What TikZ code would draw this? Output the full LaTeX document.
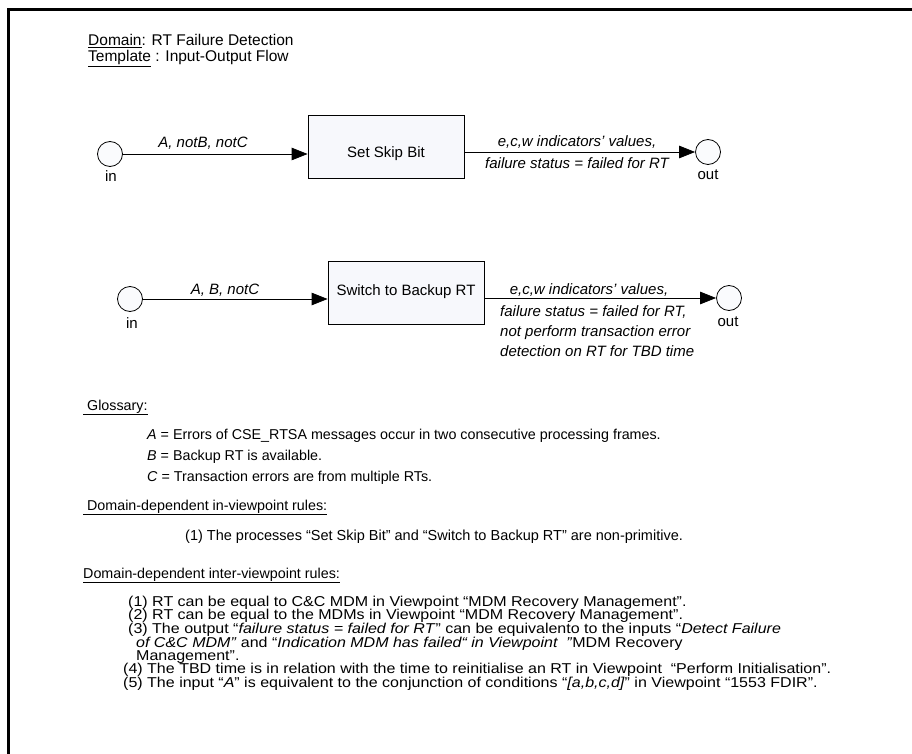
\documentclass[tikz,border=0pt]{standalone}
\usepackage{fontspec}
\setmainfont{Liberation Sans}
\newfontfamily\listfont[FakeStretch=1.12]{Liberation Sans}
\usetikzlibrary{arrows.meta}
\definecolor{portfill}{HTML}{FAFBFD}
\definecolor{procfill}{HTML}{F7F8FC}
\begin{document}
\begin{tikzpicture}[x=1pt,y=-1pt,
  hdr/.style={font=\fontsize{15.5}{18}\selectfont, inner sep=0pt, anchor=base west},
  txt/.style={font=\fontsize{14.3}{16}\selectfont, inner sep=0pt, anchor=base west},
  lst/.style={font=\listfont\fontsize{14.3}{16}\selectfont, inner sep=0pt, anchor=base west},
  lbl/.style={font=\fontsize{15}{18}\selectfont\itshape, inner sep=0pt, anchor=base},
  lblw/.style={font=\fontsize{15}{18}\selectfont\itshape, inner sep=0pt, anchor=base west},
  portlbl/.style={font=\fontsize{15}{18}\selectfont, inner sep=0pt},
  port/.style={circle, draw, fill=portfill, minimum size=25pt, inner sep=0pt, line width=0.8pt},
  proc/.style={rectangle, draw, fill=procfill, minimum width=156pt, minimum height=63pt,
    inner sep=0pt, line width=0.8pt, font=\fontsize{15}{18}\selectfont},
  flow/.style={line width=0.8pt, -{Triangle[length=16pt,width=12.5pt]}},
]
\useasboundingbox (0,0) rectangle (912,754);
\draw[line width=3pt] (8.5,754) -- (8.5,9.5) -- (912,9.5);

% header
\node[hdr] (dom) at (88,46) {\underline{Domain}: RT Failure Detection};
\node[hdr] (tpl) at (88,62) {\underline{Template} : Input-Output Flow};

% diagram 1
\node[port] (in1) at (110,154) {};
\node[portlbl] (in1l) at (111,176) {in};
\node[proc, text height=26pt, text depth=3pt] (box1) at (386,146.5) {Set Skip Bit};
\node[port] (out1) at (708,152) {};
\node[portlbl] (out1l) at (708,175) {out};
\draw[flow] (in1.east) -- (in1.east -| box1.west);
\draw[flow] (box1.east |- out1) -- (out1.west);
\node[lbl] (l1) at (203,148) {A, notB, notC};
\node[lbl] (l2) at (577,147) {e,c,w indicators’ values,};
\node[lbl] (l3) at (577,168) {failure status = failed for RT};

% diagram 2
\node[port] (in2) at (130,299) {};
\node[portlbl] (in2l) at (132,323) {in};
\node[proc, text height=7pt, text depth=3pt] (box2) at (406,293) {Switch to Backup RT};
\node[port] (out2) at (729,298) {};
\node[portlbl] (out2l) at (728,322) {out};
\draw[flow] (in2.east) -- (in2.east -| box2.west);
\draw[flow] (box2.east |- out2) -- (out2.west);
\node[lbl] (m1) at (225,294) {A, B, notC};
\node[lbl] (m2) at (589,294) {e,c,w indicators’ values,};
\node[lblw] (m3) at (500,316) {failure status = failed for RT,};
\node[lblw] (m4) at (500,336) {not perform transaction error};
\node[lblw] (m5) at (500,356) {detection on RT for TBD time};

% glossary
\node[txt] (gl) at (83,410) {\underline{\ Glossary:}};
\node[txt] (ga) at (147,439) {\textit{A} = Errors of CSE\_RTSA messages occur in two consecutive processing frames.};
\node[txt] (gb) at (147,460) {\textit{B} = Backup RT is available.};
\node[txt] (gc) at (147,481) {\textit{C} = Transaction errors are from multiple RTs.};

\node[txt] (inh) at (83,510) {\underline{\ Domain-dependent in-viewpoint rules:}};
\node[txt, font=\fontsize{14.5}{16}\selectfont] (in1r) at (185,540) {(1) The processes “Set Skip Bit” and “Switch to Backup RT” are non-primitive.};

\node[txt] (ith) at (83,578) {\underline{Domain-dependent inter-viewpoint rules:}};
\node[lst] (r1) at (128,606) {(1) RT can be equal to C\&C MDM in Viewpoint “MDM Recovery Management”.};
\node[lst] (r2) at (128,619) {(2) RT can be equal to the MDMs in Viewpoint “MDM Recovery Management”.};
\node[lst] (r3) at (128,633) {(3) The output “\textit{failure status = failed for RT}” can be equivalento to the inputs “\textit{Detect Failure}};
\node[lst] (r3b) at (136,647) {\textit{of C\&C MDM”} and “\textit{Indication MDM has failed“ in Viewpoint\ \ ”}MDM Recovery};
\node[lst] (r3c) at (136,660) {Management”.};
\node[lst] (r4) at (123,673) {(4) The TBD time is in relation with the time to reinitialise an RT in Viewpoint\ \ “Perform Initialisation”.};
\node[lst] (r5) at (123,687) {(5) The input “\textit{A}” is equivalent to the conjunction of conditions “\textit{[a,b,c,d]}” in Viewpoint “1553 FDIR”.};
\end{tikzpicture}
\end{document}
